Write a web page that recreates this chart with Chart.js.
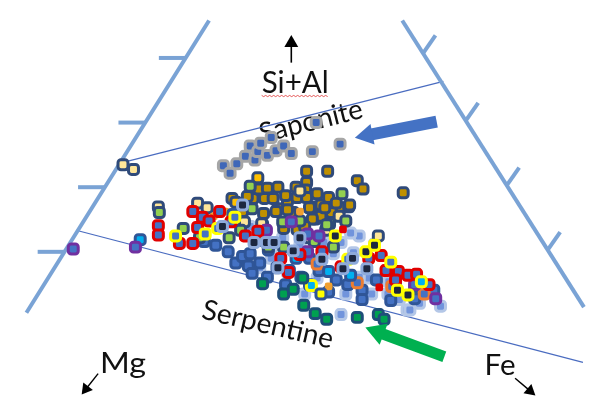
<!DOCTYPE html>
<html><head><meta charset="utf-8">
<script src="https://cdn.jsdelivr.net/npm/chart.js@4/dist/chart.umd.min.js"></script>
<style>html,body{margin:0;padding:0;background:#fff}#c{display:block}</style>
</head><body>
<canvas id="c" width="596" height="410"></canvas>
<script>
// ================= DATA (diagram coordinates) =================
// triangle edges and reference lines
const leftEdge = [[205,8],[14,320]];
const rightEdge = [[407,8],[597,314]];
const saponiteLine = [[113,160],[450,73]];
const serpentineLine = [[66,232],[596,373]];
const leftTickY = [48,117,186,255];
const rightTickY = [43,115,184,253];

// arrows: [tail, tip]
const blueArrow = [[443,116],[358,133]];
const greenArrow = [[451,367],[369,336]];
const upArrow = [[291,53],[291,24]];
const mgArrow = [[89,385],[72,407]];
const feArrow = [[525,390],[546,408]];

// text labels
const labelTexts = ['Si+Al','Saponite','Serpentine','Mg','Fe'];
const labelAnchors = [[260,85],[260,139],[196,326],[91,384],[493,387]];

// point series
const lightBluePts = [[362,238],[353,235],[343,245],[325,245],[378,247],[335,257],[372,283],[362,282],[435,297],[447,313],[412,317],[343,322],[415,317],[300,248],[282,240],[393,287],[270,252],[287,277],[258,272],[300,232],[248,228],[356,256],[392,300],[404,306],[425,310],[318,283],[348,300],[375,300],[305,300],[270,262]];
const blueNavyPts = [[233,267],[240,260],[258,267],[225,255],[246,270],[212,248],[266,282],[301,282],[310,262],[350,290],[365,296],[400,288],[420,292],[380,285],[200,244],[248,257],[276,272],[289,275],[267,253],[320,275],[338,285],[440,296],[330,298],[365,306],[285,290],[310,290],[250,278],[395,307],[420,305]];
const orangeBorderPts = [[430,300],[396,292],[360,288],[318,268]];
const goldPts = [[307,169],[329,169],[360,179],[366,188],[408,192],[307,181],[306,189],[277,186],[229,198],[251,198],[263,198],[272,198],[287,201],[297,197],[307,197],[315,207],[322,205],[343,208],[351,207],[316,220],[322,217],[277,209],[293,213],[297,231],[261,226],[313,220],[285,195],[290,213],[275,212],[287,210],[310,208],[352,205],[262,214],[240,212],[333,213],[305,228],[257,188],[266,187],[296,186],[318,193],[330,197],[338,203],[245,196],[283,230],[326,208]];
const tanPts = [[115,162],[126,167],[152,207],[193,203],[242,223],[260,225],[341,217],[382,238],[203,208],[327,232],[310,240],[300,190]];
const yellowGoldPts = [[256,176],[233,202]];
const lightGreenPts = [[248,185],[344,193],[250,209],[282,223],[283,250],[331,225],[348,222],[153,213],[178,230],[195,240],[267,250],[300,222],[328,226],[226,240],[315,244],[262,243],[238,232],[335,250]];
const orangeDotPts = [[210,217],[222,212],[330,292],[300,212]];
const cyanNavyPts = [[133,242],[353,280],[330,276],[230,215],[296,262]];
const purplePts = [[63,252],[128,250],[291,223],[308,236],[308,255],[442,305],[320,238],[420,290],[265,232]];
const redBorderPts = [[152,227],[152,237],[174,246],[188,246],[188,212],[198,218],[193,229],[216,212],[228,223],[243,238],[280,262],[288,277],[323,255],[343,271],[385,259],[390,275],[403,276],[413,280],[422,279],[300,258],[400,285],[435,290],[372,262],[256,233],[205,222]];
const yellowBorderPts = [[214,230],[201,236],[350,263],[395,266],[170,238],[232,218]];
const darkPts = [[240,205],[219,228],[252,245],[265,245],[273,245],[293,254],[277,272],[323,263],[345,273],[370,273],[300,240],[355,262]];
const darkYellowPts = [[337,238],[369,255],[378,248],[402,296],[413,301]];
const cyanYellowPts = [[312,291],[427,287]];
const yellowNavyPts = [[322,300]];
const redDotPts = [[383,293],[345,231]];
const greenPts = [[261,289],[283,300],[293,295],[303,283],[304,312],[316,321],[328,327],[360,325],[382,322],[388,327]];
const saponitePts = [[220,163],[227,171],[234,161],[243,153],[248,142],[253,157],[256,148],[259,139],[266,152],[270,133],[275,147],[283,142],[291,150],[313,148],[317,117],[342,140]];

// ================= STYLE / BUILD =================
const labelStyle = [
  {size:30, width:67, angle:0, squiggle:true},
  {size:28, width:106, angle:-14},
  {size:28, width:134, angle:13},
  {size:28, width:46, angle:0},
  {size:28, width:31, angle:0}
];
const toXY = a => a.map(p => ({x:p[0], y:p[1]}));
const datasets = [];
function lineDs(pts, color, width, order){
  datasets.push({data: toXY(pts), showLine:true, borderColor:color, borderWidth:width,
    pointRadius:0, fill:false, order, clip:false, borderCapStyle:'butt'});
}
const EDGE = '#7aa3d5', THIN = '#4a6cc0';
lineDs(leftEdge, EDGE, 4, 200);
lineDs(rightEdge, EDGE, 4, 200);
lineDs(saponiteLine, THIN, 1.2, 200);
lineDs(serpentineLine, THIN, 1.2, 200);
function edgeX(edge, yv){
  const [a,b] = edge; const t = (yv - a[1])/(b[1]-a[1]);
  return a[0] + t*(b[0]-a[0]);
}
leftTickY.forEach(v => { const ex = edgeX(leftEdge, v); lineDs([[ex-28, v],[ex, v]], EDGE, 4, 200); });
rightTickY.forEach(v => { const ex = edgeX(rightEdge, v); lineDs([[ex, v],[ex+13, v-19]], EDGE, 4, 200); });

function arrowDs(arr, color, shaftW, headR){
  const [t, h] = arr; const dx = h[0]-t[0], dy = h[1]-t[1];
  const len = Math.hypot(dx, dy); const ux = dx/len, uy = dy/len;
  const c = [h[0]-ux*headR, h[1]-uy*headR];
  lineDs([t, c], color, shaftW, -5);
  datasets.push({data: toXY([c]), pointStyle:'triangle', pointRadius:headR,
    pointRotation: Math.atan2(dx, -dy)*180/Math.PI, backgroundColor:color,
    borderWidth:0, order:-6, clip:false});
}
arrowDs(blueArrow, '#4472c4', 12, 12);
arrowDs(greenArrow, '#00b050', 11, 13);
arrowDs(upArrow, '#000', 1.6, 8);
arrowDs(mgArrow, '#000', 1.4, 7);
arrowDs(feArrow, '#000', 1.4, 7);

const NAVY = '#2f4a7a';
const R = 5.8, BW = 3;
const series = [
  [lightBluePts, '#7194dc', '#b4c7e7', R, BW],
  [blueNavyPts, '#4472c4', '#2f5597', R, BW],
  [orangeBorderPts, '#4472c4', '#ed7d31', R, BW],
  [goldPts, '#bf9000', NAVY, R, BW],
  [tanPts, '#ffe699', NAVY, R, BW],
  [yellowGoldPts, '#ffc000', NAVY, R, BW],
  [lightGreenPts, '#92d050', NAVY, R, BW],
  [orangeDotPts, '#f0a030', '#f0a030', 4.5, 0],
  [cyanNavyPts, '#00b0f0', '#2f5597', R, BW],
  [purplePts, '#4472c4', '#7030a0', R, BW],
  [redBorderPts, '#4472c4', '#e00000', R, BW],
  [yellowBorderPts, '#4472c4', '#ffff00', R, BW],
  [darkPts, '#1c2740', '#8eaadb', R, BW],
  [darkYellowPts, '#1c2740', '#ffff00', R, BW],
  [cyanYellowPts, '#00b0f0', '#ffff00', R, BW],
  [yellowNavyPts, '#ffff00', '#2f5597', R, BW],
  [redDotPts, '#e00000', '#e00000', 4.5, 0],
  [greenPts, '#00a050', '#1f4e79', R, BW],
  [saponitePts, '#3f67b8', '#a6a6a6', R, BW]
];
series.forEach((s, i) => {
  datasets.push({data: toXY(s[0]), pointStyle:'rectRounded', pointRadius:s[3],
    backgroundColor:s[1], borderColor:s[2], borderWidth:s[4], showLine:false,
    order: 100 - i, clip:false});
});

const labelPlugin = {
  id:'labels',
  beforeDatasetsDraw(chart){
    const {ctx, scales:{x, y}} = chart;
    labelTexts.forEach((txt, i) => {
      const st = labelStyle[i];
      const px = x.getPixelForValue(labelAnchors[i][0]);
      const py = y.getPixelForValue(labelAnchors[i][1]);
      ctx.save();
      ctx.translate(px, py);
      ctx.rotate(st.angle*Math.PI/180);
      ctx.font = st.size + 'px Lato, "Open Sans", sans-serif';
      const w = ctx.measureText(txt).width;
      ctx.save();
      ctx.scale(st.width / w, 1);
      ctx.fillStyle = '#111';
      ctx.textAlign = 'left';
      ctx.textBaseline = 'alphabetic';
      ctx.fillText(txt, 0, 0);
      ctx.restore();
      if (st.squiggle) {
        ctx.strokeStyle = 'rgba(225,60,60,0.85)';
        ctx.lineWidth = 1;
        ctx.beginPath();
        for (let k = 0; k <= st.width; k += 2) {
          const yy = 3 + ((k/2) % 2 ? 1 : -0.2);
          if (k === 0) ctx.moveTo(k, yy); else ctx.lineTo(k, yy);
        }
        ctx.stroke();
      }
      ctx.restore();
    });
  }
};

new Chart(document.getElementById('c'), {
  type:'scatter',
  data:{datasets},
  options:{
    responsive:false, animation:false, devicePixelRatio:1, events:[],
    layout:{padding:0},
    plugins:{legend:{display:false}, tooltip:{enabled:false}},
    scales:{
      x:{type:'linear', min:0, max:596, display:false},
      y:{type:'linear', min:0, max:410, reverse:true, display:false}
    }
  },
  plugins:[labelPlugin]
});
</script>
</body></html>
